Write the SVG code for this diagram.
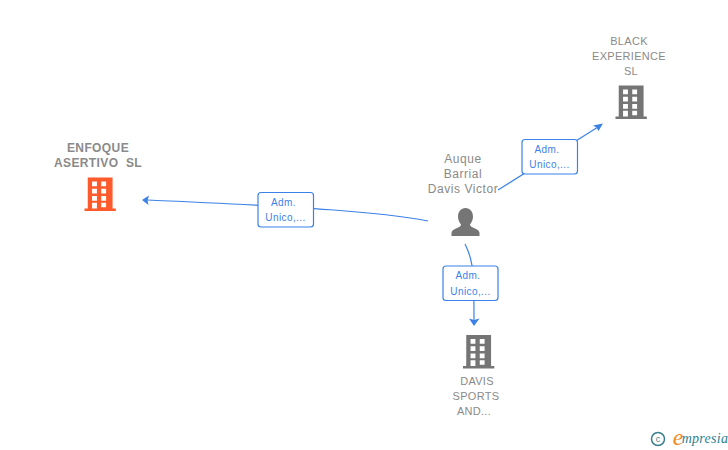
<svg xmlns="http://www.w3.org/2000/svg" width="728" height="450" viewBox="0 0 728 450">
<style>
text{font-family:"Liberation Sans",Arial,sans-serif;text-anchor:middle;white-space:pre}
.n{font-size:11px;fill:#8a8a8a;letter-spacing:.3px}
.nb{font-size:12px;fill:#8a8a8a;font-weight:bold;letter-spacing:.4px}
.p{font-size:12px;fill:#8a8a8a;letter-spacing:.55px}
.l{font-size:10px;fill:#3c82e6;letter-spacing:.4px}
.c{fill:none;stroke:#3c82e6;stroke-width:1.2}
.box{fill:#fff;stroke:#3c82e6;stroke-width:1.2}
.head{fill:#3c82e6}
</style>
<defs>
<path id="bld" fill-rule="evenodd" d="M3 0H26V30H29V32.500H0V30H3ZM7 4V8.500H11.500V4ZM15.500 4V8.500H20V4ZM7 11V15.500H11.500V11ZM15.500 11V15.500H20V11ZM7 18V22.500H11.500V18ZM15.500 18V22.500H20V18ZM7 24.500V30H11.500V24.500ZM15.500 24.500V29H20V24.500Z"/>
</defs>
<g id="connectors">
<path class="c" d="M428 221C380 212 310 207 147 200"/>
<path class="head" d="M142 200L149 195.500L147.500 200.300L148.500 205Z"/>
<path class="c" d="M498 190L598 127"/>
<path class="head" d="M603 123.500L598.500 131L596.500 127.500L593 125.500Z"/>
<path class="c" d="M465 244C472 258 473 270 473.500 283C474 295 474 310 474 322"/>
<path class="head" d="M474 326L469 318.500L474 320L479.500 318.500Z"/>
</g>
<g id="edge-label-1"><rect class="box" x="258" y="192.500" width="55.500" height="34.500" rx="3"/><text class="l" x="283.500" y="206">Adm.</text><text class="l" x="285.500" y="221">Unico,...</text></g>
<g id="edge-label-2"><rect class="box" x="522" y="139.500" width="55.500" height="34.500" rx="3"/><text class="l" x="547" y="153">Adm.</text><text class="l" x="549.500" y="168">Unico,...</text></g>
<g id="edge-label-3"><rect class="box" x="443" y="266" width="55" height="34.500" rx="3"/><text class="l" x="468" y="279">Adm.</text><text class="l" x="470.500" y="294.500">Unico,...</text></g>
<g id="node-enfoque"><text class="nb" x="98" y="152">ENFOQUE</text><text class="nb" x="98" y="167">ASERTIVO  SL</text><use href="#bld" transform="translate(84.500 177.500) scale(1.080 1.030)" fill="#ff5a2b"/></g>
<g id="node-black"><text class="n" x="629" y="45">BLACK</text><text class="n" x="629" y="60">EXPERIENCE</text><text class="n" x="631" y="75">SL</text><use href="#bld" transform="translate(615.500 85.500) scale(1.080 1.030)" fill="#757575"/></g>
<g id="node-person"><text class="p" x="463" y="163">Auque</text><text class="p" x="463" y="178">Barrial</text><text class="p" x="463" y="193">Davis Victor</text>
<path fill="#757575" d="M465.500 208C470 208 473 212 473 216.500C473 220 471.500 222.500 470 224.500C470 226.500 472 227 475 228.500C478 230 479.500 231 479.500 233V236H451.500V233C451.500 231 453 230 456 228.500C459 227 461 226.500 461 224.500C459.500 222.500 458 220 458 216.500C458 212 461 208 465.500 208Z"/></g>
<g id="node-davis"><use href="#bld" transform="translate(463 335) scale(1.080 1.030)" fill="#757575"/><text class="n" x="477" y="385">DAVIS</text><text class="n" x="476" y="400">SPORTS</text><text class="n" x="474" y="415">AND...</text></g>
<g id="credit"><circle cx="658" cy="439" r="6.500" fill="none" stroke="#3b7f8f" stroke-width="1.500"/><text x="658" y="442" style="font-size:9px;fill:#3b7f8f">c</text><text x="678" y="445" style="font-size:24px;fill:#f08a1d;font-family:'Liberation Serif',serif;font-style:italic">e</text><text x="705" y="443" style="font-size:14px;fill:#2f7f8f;font-family:'Liberation Serif',serif;font-style:italic;letter-spacing:.3px">mpresia</text></g>
</svg>
